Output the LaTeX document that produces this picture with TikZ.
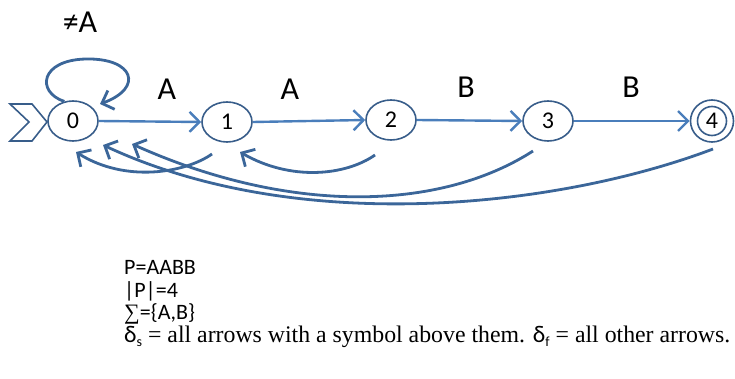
\documentclass[tikz,border=0pt]{standalone}
\usepackage{fontspec}
\setmainfont{Liberation Serif}
\newfontfamily\calib{Carlito}
\usetikzlibrary{arrows.meta,shapes.geometric}
\definecolor{lineblue}{HTML}{4A7EBB}
\definecolor{curveblue}{HTML}{3B6699}
\definecolor{nodeblue}{HTML}{385D8A}
\newcommand{\dsub}[1]{{\calib δ}\raisebox{-4.5pt}{\calib\fontsize{14}{14}\selectfont #1}}
\begin{document}
\begin{tikzpicture}[x=1pt,y=-1pt,
  state/.style={ellipse, draw=nodeblue, line width=1.6pt, minimum width=50pt, minimum height=40pt, inner sep=0pt, font=\calib\fontsize{24}{24}\selectfont},
  fwd/.style={draw=lineblue, line width=2.4pt, -{Straight Barb[length=10pt,width=20pt,line width=2.4pt]}},
  back/.style={draw=curveblue, line width=2.8pt, -{Straight Barb[length=10pt,width=20pt,line width=2.8pt]}},
  lbl/.style={font=\calib\fontsize{32}{32}\selectfont, inner sep=0pt},
  txt/.style={anchor=base west, inner sep=0pt, font=\calib\fontsize{22}{22}\selectfont},
  serif/.style={anchor=base west, inner sep=0pt, font=\fontsize{23.8}{23.8}\selectfont}]
\useasboundingbox (0,0) rectangle (735,379);

% states
\node[state] (s0) at (73,121) {0};
\node[state] (s1) at (227,122) {1};
\node[state] (s2) at (391,120) {2};
\node[state] (s3) at (548,121) {3};
\node[ellipse, draw=nodeblue, line width=1.6pt, minimum width=43pt, minimum height=42pt, inner sep=0pt] (s4) at (712,121) {};
\node[circle, draw=nodeblue, line width=1.6pt, minimum size=29pt, inner sep=0pt, font=\calib\fontsize{24}{24}\selectfont] (s4i) at (s4.center) {4};

% start marker
\draw[nodeblue, line width=1.6pt, line join=miter] (10,104) -- (32,104) -- (47,122) -- (32,141) -- (10,141) -- (29,122) -- cycle;

% labels
\node[lbl] (lne) at (80,22) {≠A};
\node[lbl] (la1) at (167,89) {A};
\node[lbl] (la2) at (290,89) {A};
\node[lbl] (lb1) at (466,87) {B};
\node[lbl] (lb2) at (631,87) {B};

% forward arrows
\draw[fwd] (s0.east) -- (s1.west);
\draw[fwd] (s1.east) -- (s2.west);
\draw[fwd] (s2.east) -- (s3.west);
\draw[fwd] (s3.east) -- (s4.west);

% self loop
\coordinate (l0end) at (100,104);
\draw[back] (s0.114) .. controls (36,92) and (40,60) .. (86,59) .. controls (134,58) and (144,88) .. (l0end);

% back arrows
\coordinate (b1s) at (212,154); \coordinate (b1e) at (76,152);
\coordinate (b2s) at (375,155); \coordinate (b2e) at (240,152);
\coordinate (b3s) at (533,151); \coordinate (b3e) at (132,144);
\coordinate (b4s) at (713,149); \coordinate (b4e) at (103,145);
\draw[back] (b1s) .. controls (185,173) and (125,183) .. (b1e);
\draw[back] (b2s) .. controls (345,176) and (290,181) .. (b2e);
\draw[back] (b3s) .. controls (440,211) and (290,215) .. (b3e);
\draw[back] (b4s) .. controls (560,207) and (300,237) .. (b4e);

% text
\node[txt] (t1) at (124,274) {P=AABB};
\node[txt] (t2) at (124,297) {|P|=4};
\node[txt] (t3) at (124,319) {{\rmfamily ∑}=\{A,B\}};
\node[serif] (t4) at (124,342) {\dsub{s} = all arrows with a symbol above them. \dsub{f} = all other arrows.};
\end{tikzpicture}
\end{document}
